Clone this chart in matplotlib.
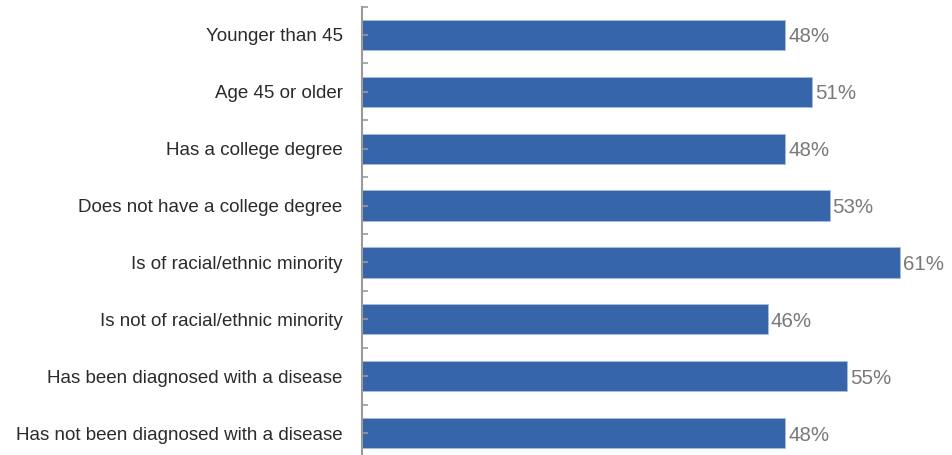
import matplotlib
matplotlib.use("Agg")
import matplotlib.pyplot as plt
from matplotlib.ticker import MultipleLocator

plt.rcParams['font.family'] = ['Liberation Sans', 'DejaVu Sans']

categories = [
    "Younger than 45",
    "Age 45 or older",
    "Has a college degree",
    "Does not have a college degree",
    "Is of racial/ethnic minority",
    "Is not of racial/ethnic minority",
    "Has been diagnosed with a disease",
    "Has not been diagnosed with a disease",
]
values = [48, 51, 48, 53, 61, 46, 55, 48]
value_labels = ["48%", "51%", "48%", "53%", "61%", "46%", "55%", "48%"]

W, H = 953, 455
fig = plt.figure(figsize=(W / 100, H / 100), dpi=100)
left = 362 / W
top = 6.5
bottom = 461.5
ax = fig.add_axes([left, (H - bottom) / H, 1 - left, (bottom - top) / H])

pos = list(range(len(categories)))
bar_color = "#3765A9"
ax.barh(pos, values, height=0.53, color=bar_color, edgecolor="#A9BDDD", linewidth=0.6)

for p, v, lab in zip(pos, values, value_labels):
    ax.text(v + 0.35, p, lab, va="center_baseline", ha="left", fontsize=14.8,
            color="#7A7A7A")

ax.set_xlim(0, 67)
ax.set_ylim(len(categories) - 0.5, -0.5)

ax.set_yticks(pos)
ax.set_yticklabels(categories, fontsize=13.5, color="#2B2B2B")
ax.yaxis.set_minor_locator(MultipleLocator(0.5))
ax.tick_params(axis="y", which="both", direction="in", length=4, width=1.2,
               color="#9A9A9A")
ax.tick_params(axis="y", which="major", pad=14)
ax.set_xticks([])

for s in ["top", "right", "bottom"]:
    ax.spines[s].set_visible(False)
ax.spines["left"].set_color("#9A9A9A")
ax.spines["left"].set_linewidth(1.5)
ax.patch.set_alpha(0)

fig.savefig("out.png", dpi=100)
